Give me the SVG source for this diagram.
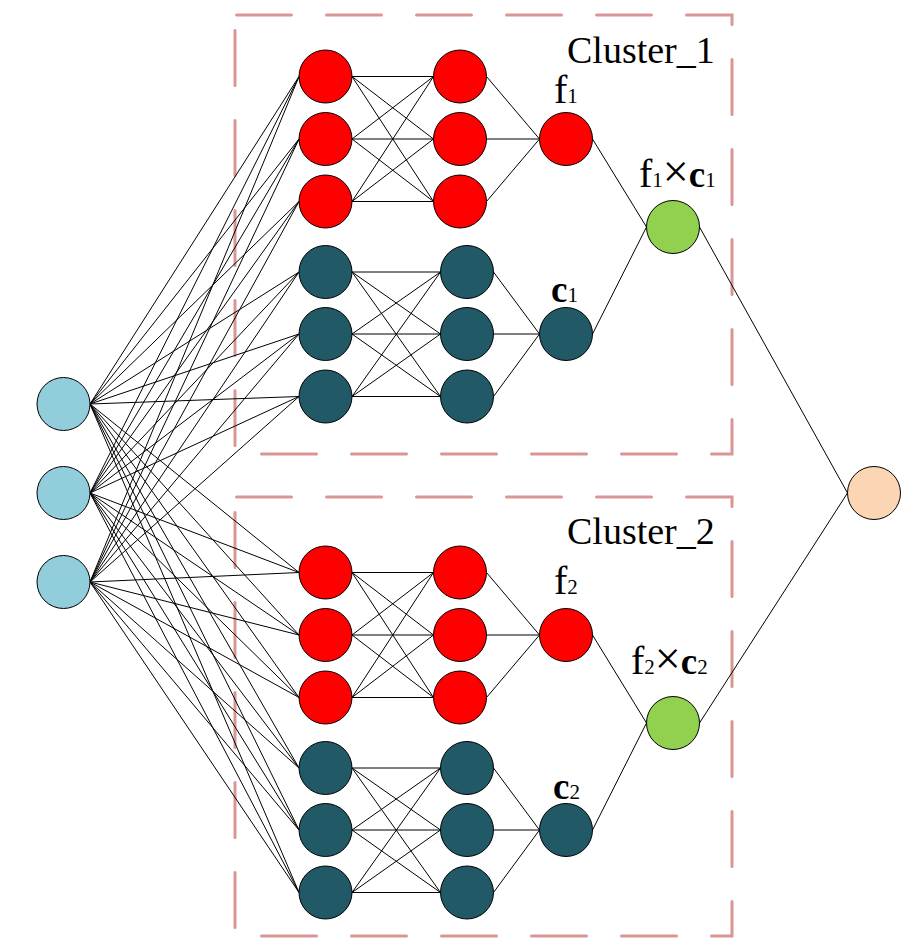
<svg xmlns="http://www.w3.org/2000/svg" width="919" height="949" viewBox="0 0 919 949">
<style>
.box{fill:none;stroke:#D99694;stroke-width:3;stroke-linecap:round;stroke-dasharray:55 35;stroke-dashoffset:-1.5}
.n{stroke:#000;stroke-width:1}
.in{fill:#92CDDC}.red{fill:#FF0000}.dk{fill:#215967}.gr{fill:#92D050}.out{fill:#FCD5B5}
.c{fill:none;stroke:#000;stroke-width:1}
text{font-family:"Liberation Serif","Times New Roman",serif;fill:#000}
.lbl{font-size:40px}
.sub{font-size:21px}
.x{font-size:46px}
.cv{font-size:37px;font-weight:bold}
.cl{font-size:38px}
</style>
<g id="cluster1-box"><path class="box" d="M235,15H732V454H235Z"/></g>
<g id="cluster2-box"><path class="box" d="M235,497H732V936H235Z"/></g>
<g id="connectors">
<path class="c" d="M90,404L299,76.5M90,404L299,139M90,404L299,201.5M90,404L299,272M90,404L299,334M90,404L299,396.5M90,404L299,572.5M90,404L299,635M90,404L299,697.5M90,404L299,768M90,404L299,830M90,404L299,892.5
M90,493L299,76.5M90,493L299,139M90,493L299,201.5M90,493L299,272M90,493L299,334M90,493L299,396.5M90,493L299,572.5M90,493L299,635M90,493L299,697.5M90,493L299,768M90,493L299,830M90,493L299,892.5
M90,582L299,76.5M90,582L299,139M90,582L299,201.5M90,582L299,272M90,582L299,334M90,582L299,396.5M90,582L299,572.5M90,582L299,635M90,582L299,697.5M90,582L299,768M90,582L299,830M90,582L299,892.5"/>
<path class="c" d="M352,76.5L433.5,76.5M352,76.5L433.5,139M352,76.5L433.5,201.5M352,139L433.5,76.5M352,139L433.5,139M352,139L433.5,201.5M352,201.5L433.5,76.5M352,201.5L433.5,139M352,201.5L433.5,201.5
M486.5,76.5L539.5,139M486.5,139L539.5,139M486.5,201.5L539.5,139"/>
<path class="c" d="M352,272L440.5,272M352,272L440.5,334M352,272L440.5,396.5M352,334L440.5,272M352,334L440.5,334M352,334L440.5,396.5M352,396.5L440.5,272M352,396.5L440.5,334M352,396.5L440.5,396.5
M493.5,272L539.5,334M493.5,334L539.5,334M493.5,396.5L539.5,334"/>
<path class="c" d="M352,572.5L433.5,572.5M352,572.5L433.5,635M352,572.5L433.5,697.5M352,635L433.5,572.5M352,635L433.5,635M352,635L433.5,697.5M352,697.5L433.5,572.5M352,697.5L433.5,635M352,697.5L433.5,697.5
M486.5,572.5L539.5,635M486.5,635L539.5,635M486.5,697.5L539.5,635"/>
<path class="c" d="M352,768L440.5,768M352,768L440.5,830M352,768L440.5,892.5M352,830L440.5,768M352,830L440.5,830M352,830L440.5,892.5M352,892.5L440.5,768M352,892.5L440.5,830M352,892.5L440.5,892.5
M493.5,768L539.5,830M493.5,830L539.5,830M493.5,892.5L539.5,830"/>
<path class="c" d="M592.5,139L646.5,227M592.5,334L646.5,227M592.5,635L646.5,723M592.5,830L646.5,723M699.5,227L847.5,493M699.5,723L847.5,493"/>
</g>
<g id="in1"><circle class="n in" cx="63.5" cy="404" r="26.5"/></g>
<g id="in2"><circle class="n in" cx="63.5" cy="493" r="26.5"/></g>
<g id="in3"><circle class="n in" cx="63.5" cy="582" r="26.5"/></g>
<g id="c1-f-l1"><circle class="n red" cx="325.5" cy="76.5" r="26.5"/><circle class="n red" cx="325.5" cy="139" r="26.5"/><circle class="n red" cx="325.5" cy="201.5" r="26.5"/></g>
<g id="c1-f-l2"><circle class="n red" cx="460" cy="76.5" r="26.5"/><circle class="n red" cx="460" cy="139" r="26.5"/><circle class="n red" cx="460" cy="201.5" r="26.5"/></g>
<g id="c1-c-l1"><circle class="n dk" cx="325.5" cy="272" r="26.5"/><circle class="n dk" cx="325.5" cy="334" r="26.5"/><circle class="n dk" cx="325.5" cy="396.5" r="26.5"/></g>
<g id="c1-c-l2"><circle class="n dk" cx="467" cy="272" r="26.5"/><circle class="n dk" cx="467" cy="334" r="26.5"/><circle class="n dk" cx="467" cy="396.5" r="26.5"/></g>
<g id="f1"><circle class="n red" cx="566" cy="139" r="26.5"/><text class="lbl" x="554" y="103">f<tspan class="sub">1</tspan></text></g>
<g id="c1"><circle class="n dk" cx="566" cy="334" r="26.5"/><text class="lbl" x="551" y="301.5"><tspan class="cv">c</tspan><tspan class="sub">1</tspan></text></g>
<g id="f1xc1"><circle class="n gr" cx="673" cy="227" r="26.5"/><text class="lbl" x="639" y="187">f<tspan class="sub">1</tspan><tspan class="x">×</tspan><tspan class="cv">c</tspan><tspan class="sub">1</tspan></text></g>
<g id="c2-f-l1"><circle class="n red" cx="325.5" cy="572.5" r="26.5"/><circle class="n red" cx="325.5" cy="635" r="26.5"/><circle class="n red" cx="325.5" cy="697.5" r="26.5"/></g>
<g id="c2-f-l2"><circle class="n red" cx="460" cy="572.5" r="26.5"/><circle class="n red" cx="460" cy="635" r="26.5"/><circle class="n red" cx="460" cy="697.5" r="26.5"/></g>
<g id="c2-c-l1"><circle class="n dk" cx="325.5" cy="768" r="26.5"/><circle class="n dk" cx="325.5" cy="830" r="26.5"/><circle class="n dk" cx="325.5" cy="892.5" r="26.5"/></g>
<g id="c2-c-l2"><circle class="n dk" cx="467" cy="768" r="26.5"/><circle class="n dk" cx="467" cy="830" r="26.5"/><circle class="n dk" cx="467" cy="892.5" r="26.5"/></g>
<g id="f2"><circle class="n red" cx="566" cy="635" r="26.5"/><text class="lbl" x="554" y="594">f<tspan class="sub">2</tspan></text></g>
<g id="c2"><circle class="n dk" cx="566" cy="830" r="26.5"/><text class="lbl" x="553" y="798.5"><tspan class="cv">c</tspan><tspan class="sub">2</tspan></text></g>
<g id="f2xc2"><circle class="n gr" cx="673" cy="723" r="26.5"/><text class="lbl" x="631" y="674">f<tspan class="sub">2</tspan><tspan class="x">×</tspan><tspan class="cv">c</tspan><tspan class="sub">2</tspan></text></g>
<g id="output"><circle class="n out" cx="874" cy="493" r="26.5"/></g>
<g id="labels"><text class="cl" x="567" y="63">Cluster_1</text><text class="cl" x="567" y="544">Cluster_2</text></g>
</svg>
